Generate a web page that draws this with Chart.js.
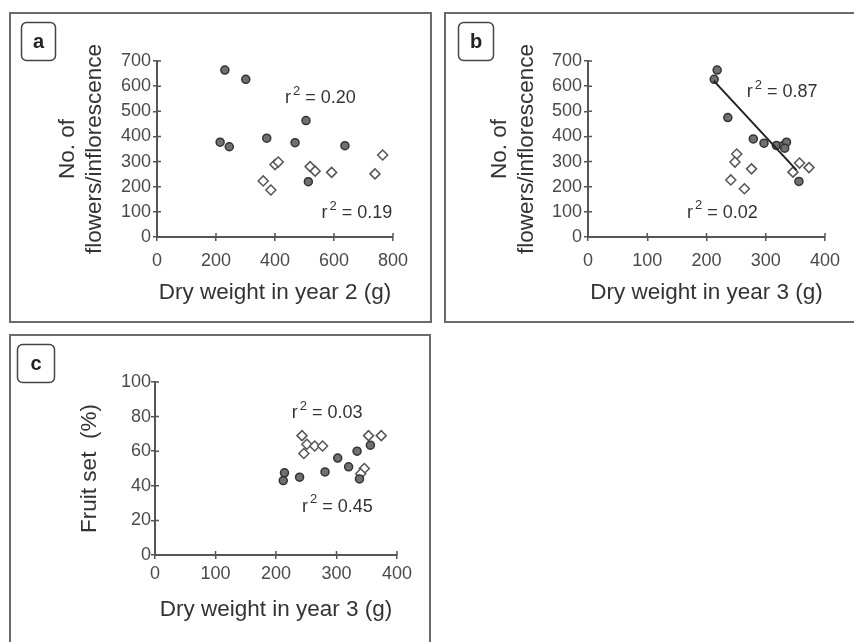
<!DOCTYPE html>
<html>
<head>
<meta charset="utf-8">
<script src="https://cdn.jsdelivr.net/npm/chart.js@4.4.0/dist/chart.umd.min.js"></script>
<style>
  html, body { margin: 0; padding: 0; background: #fff; width: 854px; height: 642px; overflow: hidden; }
  .panel { position: absolute; }
</style>
</head>
<body>
<div class="panel" style="left:9px;top:12px;width:423px;height:311px"><canvas id="chartA"></canvas></div>
<div class="panel" style="left:444px;top:12px;width:410px;height:311px"><canvas id="chartB"></canvas></div>
<div class="panel" style="left:9px;top:334px;width:422px;height:308px"><canvas id="chartC"></canvas></div>
<script>
// panel a: dry weight in year 2 vs flowers per inflorescence
const filledAX = [230, 301, 505, 214, 245, 372, 468, 637, 513];
const filledAY = [664, 627, 463, 377, 359, 393, 375, 363, 220];
const openAX = [400, 411, 519, 536, 592, 765, 739, 360, 386];
const openAY = [288, 298, 280, 262, 257, 326, 251, 223, 187];

// panel b: dry weight in year 3 vs flowers per inflorescence
const filledBX = [218, 213, 236, 279, 297, 318, 330, 335, 332, 356];
const filledBY = [664, 627, 475, 390, 373, 364, 364, 377, 353, 221];
const openBX = [251, 248, 276, 241, 264, 357, 373, 346];
const openBY = [330, 298, 271, 227, 192, 294, 276, 258];
const trendBX = [212, 352];
const trendBY = [622, 266];

// panel c: dry weight in year 3 vs fruit set
const filledCX = [212, 214, 239, 281, 302, 320, 334, 338, 356];
const filledCY = [43, 47.5, 45, 48, 56, 51, 60, 44, 63.5];
const openCX = [243, 251, 264, 277, 246, 353, 374, 346, 340];
const openCY = [69, 64, 63, 63, 58.7, 69, 69, 50, 47];

const flowerTicks = [0, 100, 200, 300, 400, 500, 600, 700];
const weight2Ticks = [0, 200, 400, 600, 800];
const weight3Ticks = [0, 100, 200, 300, 400];
const fruitTicks = [0, 20, 40, 60, 80, 100];

// r squared labels, anchored in data units
const rsqA = [{ x: 434, y: 553, v: '0.20' }, { x: 558, y: 95, v: '0.19' }];
const rsqB = [{ x: 268, y: 577, v: '0.87' }, { x: 167, y: 96, v: '0.02' }];
const rsqC = [{ x: 226, y: 82, v: '0.03' }, { x: 243, y: 28, v: '0.45' }];

const FONT = 'Arial, "Liberation Sans", sans-serif';
const AXIS = '#555';

function pts(xs, ys) {
  return xs.map((x, i) => ({ x: x, y: ys[i] }));
}

function filledSet(xs, ys) {
  return {
    data: pts(xs, ys), pointStyle: 'circle', pointRadius: 4,
    backgroundColor: '#707070', borderColor: '#333', borderWidth: 1.5
  };
}

function openSet(xs, ys) {
  return {
    data: pts(xs, ys), pointStyle: 'rectRot', pointRadius: 5,
    backgroundColor: '#fff', borderColor: '#555', borderWidth: 1.5
  };
}

// frame, letter box, inner tick halves and r^2 texts
const decor = {
  id: 'decor',
  beforeDraw(chart) {
    const { ctx, width, height } = chart;
    const o = chart.options.plugins.decor;
    ctx.save();
    ctx.strokeStyle = '#6b6b6b';
    ctx.lineWidth = 2;
    ctx.strokeRect(1, 1, width - 2 + o.extraW, height - 2 + o.extraH);
    ctx.lineWidth = 1.5;
    ctx.strokeStyle = '#444';
    ctx.beginPath();
    ctx.roundRect(o.box[0], o.box[1], o.box[2], o.box[3], 5);
    ctx.stroke();
    ctx.fillStyle = '#222';
    ctx.font = 'bold 20px ' + FONT;
    ctx.textAlign = 'center';
    ctx.textBaseline = 'middle';
    ctx.fillText(o.letter, o.box[0] + o.box[2] / 2, o.box[1] + o.box[3] / 2 + 1);
    ctx.restore();
  },
  afterDraw(chart) {
    const { ctx, scales: { x, y } } = chart;
    const o = chart.options.plugins.decor;
    ctx.save();
    ctx.strokeStyle = AXIS;
    ctx.lineWidth = 1.5;
    ctx.beginPath();
    x.ticks.forEach(t => {
      const px = x.getPixelForValue(t.value);
      ctx.moveTo(px, y.bottom);
      ctx.lineTo(px, y.bottom - 4);
    });
    y.ticks.forEach(t => {
      const py = y.getPixelForValue(t.value);
      ctx.moveTo(x.left, py);
      ctx.lineTo(x.left + 4, py);
    });
    ctx.stroke();

    ctx.fillStyle = '#333';
    ctx.textBaseline = 'middle';
    ctx.textAlign = 'left';
    o.rsq.forEach(r => {
      let px = x.getPixelForValue(r.x);
      const py = y.getPixelForValue(r.y);
      ctx.font = '18px ' + FONT;
      ctx.fillText('r', px, py);
      px += ctx.measureText('r').width + 2;
      ctx.font = '13px ' + FONT;
      ctx.fillText('2', px, py - 7);
      px += ctx.measureText('2').width;
      ctx.font = '18px ' + FONT;
      ctx.fillText(' = ' + r.v, px, py);
    });
    ctx.restore();
  }
};

function makePanel(id, p) {
  new Chart(document.getElementById(id), {
    type: 'scatter',
    data: { datasets: p.datasets },
    plugins: [decor],
    options: {
      responsive: true,
      maintainAspectRatio: false,
      animation: false,
      layout: { padding: { left: 0, bottom: 0, top: p.top, right: p.right } },
      plugins: {
        legend: { display: false },
        tooltip: { enabled: false },
        decor: { letter: p.letter, box: p.box, rsq: p.rsq, extraW: p.extraW, extraH: p.extraH }
      },
      scales: {
        x: {
          type: 'linear', min: p.xTicks[0], max: p.xTicks[p.xTicks.length - 1],
          afterBuildTicks: s => { s.ticks = p.xTicks.map(v => ({ value: v })); },
          afterFit: s => { s.height = p.xH; },
          border: { display: true, color: AXIS, width: 2 },
          grid: { display: true, drawOnChartArea: false, drawTicks: true, tickLength: 4, color: AXIS, lineWidth: 1.5 },
          ticks: { color: '#4a4a4a', font: { family: FONT, size: 18 }, padding: p.xPad, maxRotation: 0 },
          title: { display: true, text: p.xTitle, color: '#333', font: { family: FONT, size: 22.5, lineHeight: 1.2 }, padding: { top: 0, bottom: p.xTitlePad } }
        },
        y: {
          type: 'linear', min: p.yTicks[0], max: p.yTicks[p.yTicks.length - 1],
          afterBuildTicks: s => { s.ticks = p.yTicks.map(v => ({ value: v })); },
          afterFit: s => { s.width = p.yW; },
          border: { display: true, color: AXIS, width: 2 },
          grid: { display: true, drawOnChartArea: false, drawTicks: true, tickLength: 4, color: AXIS, lineWidth: 1.5 },
          ticks: { color: '#4a4a4a', font: { family: FONT, size: 18 }, padding: p.yPad },
          title: { display: true, text: p.yTitle, color: '#333', font: { family: FONT, size: 22.5, lineHeight: 1.2 }, padding: { top: p.yTitlePad, bottom: 0 } }
        }
      }
    }
  });
}

makePanel('chartA', {
  letter: 'a', box: [12.5, 10.5, 34, 38], extraW: 0, extraH: 0,
  datasets: [filledSet(filledAX, filledAY), openSet(openAX, openAY)],
  rsq: rsqA, xTicks: weight2Ticks, yTicks: flowerTicks,
  top: 49, right: 39, xH: 86, yW: 148, xPad: 9, yPad: 2,
  xTitle: 'Dry weight in year 2 (g)', xTitlePad: 16.5,
  yTitle: ['No. of', 'flowers/inflorescence'], yTitlePad: 45.5
});

makePanel('chartB', {
  letter: 'b', box: [14.5, 10.5, 35, 38], extraW: 12, extraH: 0,
  datasets: [
    { type: 'line', data: pts(trendBX, trendBY), showLine: true, borderColor: '#222', borderWidth: 2, pointRadius: 0, fill: false },
    filledSet(filledBX, filledBY), openSet(openBX, openBY)
  ],
  rsq: rsqB, xTicks: weight3Ticks, yTicks: flowerTicks,
  top: 49, right: 29, xH: 86, yW: 144, xPad: 9, yPad: 2,
  xTitle: 'Dry weight in year 3 (g)', xTitlePad: 16.5,
  yTitle: ['No. of', 'flowers/inflorescence'], yTitlePad: 42.5
});

makePanel('chartC', {
  letter: 'c', box: [8.5, 10.5, 37, 38], extraW: 0, extraH: 12,
  datasets: [filledSet(filledCX, filledCY), openSet(openCX, openCY)],
  rsq: rsqC, xTicks: weight3Ticks, yTicks: fruitTicks,
  top: 48, right: 34, xH: 87, yW: 146, xPad: 4, yPad: 0,
  xTitle: 'Dry weight in year 3 (g)', xTitlePad: 18.5,
  yTitle: 'Fruit set  (%)', yTitlePad: 67.5
});
</script>
</body>
</html>
